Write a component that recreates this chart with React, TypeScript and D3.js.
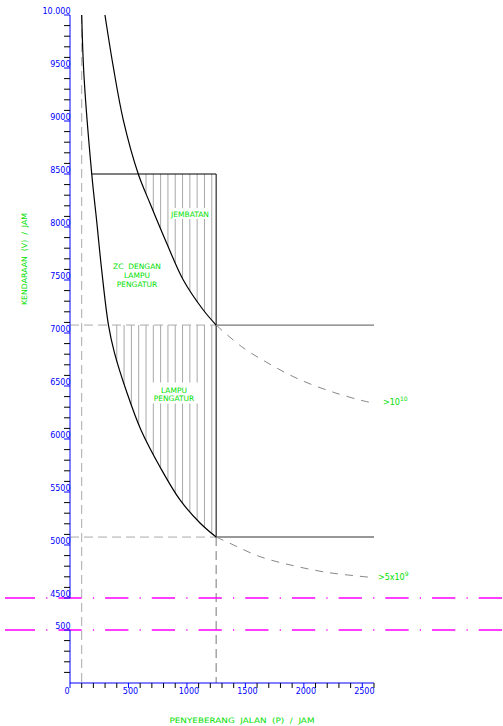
import React from 'react'
import * as d3 from 'd3'

const W = 503
const H = 726

// batas kurva bawah (ZC dengan lampu pengatur) -- P, V
const lowerP = [100, 120, 186, 229, 271, 329, 381, 488, 607, 770, 941, 1112, 1250]
const lowerV = [10000, 9418, 8500, 8047, 7594, 7075, 6811, 6434, 6085, 5736, 5425, 5208, 5075]

// batas kurva atas (jembatan)
const upperP = [299, 370, 456, 584, 684, 827, 969, 1140, 1250]
const upperV = [10000, 9512, 9009, 8500, 8224, 7847, 7500, 7217, 7075]

// lanjutan putus-putus
const upperDashP = [1250, 1468, 1711, 1953, 2252, 2538, 2600]
const upperDashV = [7075, 6871, 6705, 6566, 6441, 6352, 6340]
const lowerDashP = [1250, 1368, 1625, 1910, 2196, 2480, 2600]
const lowerDashV = [5075, 5016, 4890, 4805, 4742, 4705, 4692]

// garis batas
const P_MIN = 100
const P_MAX = 1250
const P_END = 2600
const V_TOP = 8500
const V_SIGNAL = 7075
const V_ZEBRA = 5075

// arsiran
const hatchP = [400, 462.5, 525, 587.5, 650, 712.5, 775, 837.5, 900, 962.5, 1025, 1087.5, 1150, 1212.5]

// sumbu
const yTopLabelV = [10000, 9500, 9000, 8500, 8000, 7500, 7000, 6500, 6000, 5500, 5000, 4500]
const yTopLabelText = ['10.000', '9500', '9000', '8500', '8000', '7500', '7000', '6500', '6000', '5500', '5000', '4500']
const xLabelP = [0, 500, 1000, 1500, 2000, 2500]
const xLabelText = ['0', '500', '1000', '1500', '2000', '2500']

const GREEN = '#00e000'
const BLUE = '#0000ff'
const FONT = 'DejaVu Sans'

const x = d3.scaleLinear().domain([0, 2600]).range([70, 374])
const yTop = d3.scaleLinear().domain([4500, 10000]).range([598, 15])
const yBot = d3.scaleLinear().domain([0, 500]).range([683, 630])

type Pt = [number, number]
const zip = (ps: number[], vs: number[]): Pt[] => ps.map((p, i) => [p, vs[i]])

const smooth = d3.curveCatmullRom.alpha(0.5)
const curve = d3.line<Pt>().x(d => x(d[0])).y(d => yTop(d[1])).curve(smooth)

const lowerPts = zip(lowerP, lowerV)
const upperPts = zip(upperP, upperV)

// daerah arsiran: dari kurva sampai garis atas, dan tepi kanan P_MAX
const regionPath = (pts: Pt[], vTop: number) => {
  const inner = pts.filter(d => d[1] <= vTop)
  const c = curve(inner) || ''
  return `${c}L${x(P_MAX) + 0.5},${yTop(inner[inner.length - 1][1])}L${x(P_MAX) + 0.5},${yTop(vTop)}L${x(inner[0][0])},${yTop(vTop)}Z`
}

export default function App() {
  const topTicks = d3.range(4500, 10001, 100)
  const botTicks = d3.range(100, 501, 100)
  const xTicks = d3.range(0, 2601, 100)
  const hatchLines = (key: string) =>
    hatchP.map(p => (
      <line key={key + p} x1={x(p)} x2={x(p)} y1={yTop(V_TOP)} y2={yTop(V_ZEBRA)} stroke="#a8a8a8" strokeWidth={1} />
    ))

  return (
    <svg width={W} height={H} style={{ position: 'absolute', left: 0, top: 0, background: '#fff' }} fontFamily={FONT}>
      <defs>
        <clipPath id="clipJem">
          <path d={regionPath(upperPts, V_TOP)} />
        </clipPath>
        <clipPath id="clipLampu">
          <path d={regionPath(lowerPts, V_SIGNAL)} />
        </clipPath>
      </defs>

      {/* arsiran */}
      <g clipPath="url(#clipJem)">{hatchLines('j')}</g>
      <g clipPath="url(#clipLampu)">{hatchLines('l')}</g>
      <rect x={169} y={208} width={41.5} height={11} fill="#fff" />
      <rect x={149.5} y={382.5} width={49.5} height={21} fill="#fff" />

      {/* garis bantu putus-putus */}
      <line x1={x(P_MIN)} x2={x(P_MIN)} y1={yTop(10000)} y2={yBot(0)} stroke="#aaa" strokeDasharray="9,5" />
      <line x1={x(0)} x2={x(P_MAX)} y1={yTop(V_SIGNAL)} y2={yTop(V_SIGNAL)} stroke="#aaa" strokeDasharray="9,5" />
      <line x1={x(0)} x2={x(P_MAX)} y1={yTop(V_ZEBRA)} y2={yTop(V_ZEBRA)} stroke="#aaa" strokeDasharray="9,5" />
      <line x1={x(P_MAX)} x2={x(P_MAX)} y1={yTop(V_ZEBRA)} y2={yBot(0)} stroke="#777" strokeDasharray="9,5" />

      {/* kotak */}
      <line x1={x(lowerP[2])} x2={x(P_MAX)} y1={yTop(V_TOP)} y2={yTop(V_TOP)} stroke="#000" />
      <line x1={x(P_MAX)} x2={x(P_MAX)} y1={yTop(V_TOP)} y2={yTop(V_ZEBRA)} stroke="#000" />
      <line x1={x(P_MAX)} x2={x(P_END)} y1={yTop(V_SIGNAL)} y2={yTop(V_SIGNAL)} stroke="#777" strokeWidth={1.2} />
      <line x1={x(P_MAX)} x2={x(P_END)} y1={yTop(V_ZEBRA)} y2={yTop(V_ZEBRA)} stroke="#333" strokeWidth={1.1} />

      {/* kurva */}
      <path d={curve(lowerPts) || ''} fill="none" stroke="#000" strokeWidth={1.2} />
      <path d={curve(upperPts) || ''} fill="none" stroke="#000" strokeWidth={1.2} />
      <path d={curve(zip(upperDashP, upperDashV)) || ''} fill="none" stroke="#888" strokeDasharray="8,7" />
      <path d={curve(zip(lowerDashP, lowerDashV)) || ''} fill="none" stroke="#888" strokeDasharray="8,7" />

      {/* garis potong sumbu */}
      {[yTop(4500), yBot(500)].map(yy => (
        <line key={yy} x1={5} x2={W} y1={yy} y2={yy} stroke="#ff00ff" strokeWidth={1.3}
          strokeDasharray="30,11.2,1.2,11,23.3,11.2,1.2,11,23.3,11.2,1.2,11,23.3,11.2,1.2,11,23.3,11.2,1.2,11,23.3,11.2,1.2,11,23.3,11.2,1.2,11,23.3,11.2,1.2,11,23.3,11.2,1.2,11,23.3,11.2,1.2,11,23.3,11.2,1.2,11,23.3,11.2,1.2,11" />
      ))}

      {/* sumbu Y */}
      <line x1={70} x2={70} y1={yTop(10000)} y2={yTop(4500)} stroke={BLUE} />
      <line x1={70} x2={70} y1={yBot(500)} y2={yBot(0)} stroke={BLUE} />
      {topTicks.map(v => (
        <line key={'t' + v} x1={64} x2={70} y1={yTop(v)} y2={yTop(v)} stroke={v % 500 === 0 ? BLUE : '#000'} />
      ))}
      {botTicks.map(v => (
        <line key={'b' + v} x1={64} x2={70} y1={yBot(v)} y2={yBot(v)} stroke={v % 500 === 0 ? BLUE : '#000'} />
      ))}
      {yTopLabelV.map((v, i) => (
        <text key={'yl' + v} x={70.5} y={yTop(v) - 0.8} textAnchor="end" fontSize={8} fill={BLUE}>{yTopLabelText[i]}</text>
      ))}
      <text x={70.5} y={yBot(500) - 0.8} textAnchor="end" fontSize={8} fill={BLUE}>500</text>

      {/* sumbu X */}
      <line x1={x(0)} x2={x(2600)} y1={yBot(0)} y2={yBot(0)} stroke={BLUE} />
      {xTicks.map(p => (
        <line key={'x' + p} x1={x(p)} x2={x(p)} y1={yBot(0)} y2={yBot(0) + 5} stroke={p % 500 === 0 ? BLUE : '#000'} />
      ))}
      {xLabelP.map((p, i) => (
        <text key={'xl' + p} x={p === 0 ? x(p) - 0.5 : x(p) + 2} y={694} textAnchor={p === 0 ? 'end' : 'middle'} fontSize={8} fill={BLUE}>{xLabelText[i]}</text>
      ))}

      {/* judul sumbu */}
      <text x={242} y={723} textAnchor="middle" fontSize={7.5} fill={GREEN} style={{ whiteSpace: 'pre' }}
        textLength={145} lengthAdjust="spacingAndGlyphs">PENYEBERANG  JALAN  (P)  /  JAM</text>
      <text transform="translate(27,259) rotate(-90)" textAnchor="middle" fontSize={7.5} fill={GREEN} style={{ whiteSpace: 'pre' }}
        textLength={92} lengthAdjust="spacingAndGlyphs">KENDARAAN  (V)  /  JAM</text>

      {/* label daerah */}
      <text x={190} y={217} textAnchor="middle" fontSize={7.5} fill={GREEN}>JEMBATAN</text>
      <text x={137} y={269} textAnchor="middle" fontSize={7.5} fill={GREEN} style={{ whiteSpace: 'pre' }}>ZC  DENGAN</text>
      <text x={137} y={278.3} textAnchor="middle" fontSize={7.5} fill={GREEN}>LAMPU</text>
      <text x={137} y={287} textAnchor="middle" fontSize={7.5} fill={GREEN}>PENGATUR</text>
      <text x={174} y={392.7} textAnchor="middle" fontSize={7.5} fill={GREEN}>LAMPU</text>
      <text x={174} y={401.3} textAnchor="middle" fontSize={7.5} fill={GREEN}>PENGATUR</text>

      <text x={383} y={405} fontSize={8} fill={GREEN}>&gt;10<tspan dy={-4.5} fontSize={6}>10</tspan></text>
      <text x={378} y={580} fontSize={8} fill={GREEN}>&gt;5x10<tspan dy={-4.5} fontSize={6}>9</tspan></text>
    </svg>
  )
}
